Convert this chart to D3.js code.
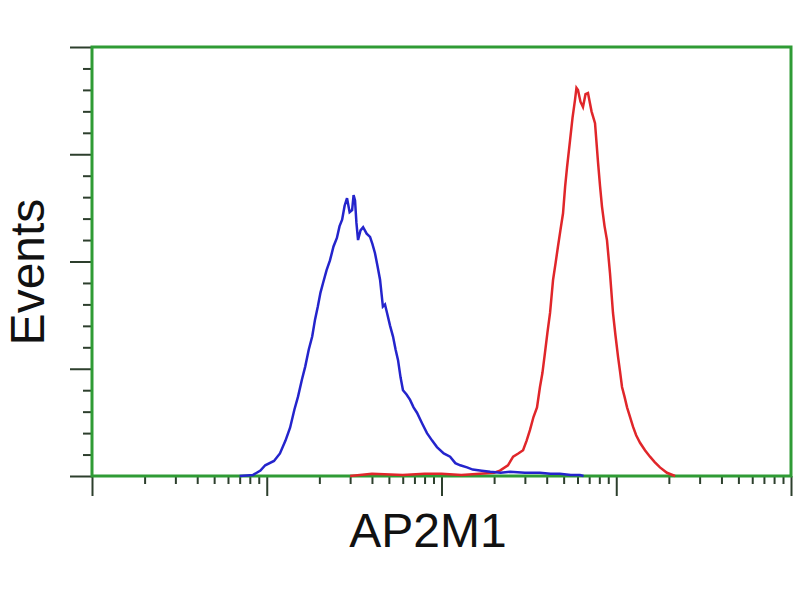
<!DOCTYPE html>
<html>
<head>
<meta charset="utf-8">
<script src="https://cdn.jsdelivr.net/npm/d3@7"></script>
<style>
  body { margin: 0; background: #fff; }
  svg { display: block; }
  .label { font-family: "Liberation Sans", Arial, sans-serif; font-size: 48px; fill: #111; }
</style>
</head>
<body>
<div id="chart"></div>
<script>
// fluorescence intensity (channel value) and event counts
const blueIntensity = [7, 8.35, 9.2, 9.8, 11, 11.9, 12.8, 13.6, 14.4, 15.1, 15.9, 16.6, 17.4, 18.2, 18.9, 19.6, 20.3, 21.0,
    22.0, 23.0, 24.1, 25.2, 26.1, 27.0, 27.9, 28.8, 29.8, 30.8, 31.4, 32.0, 32.6, 33.3, 34.4, 35.6, 37.3, 39.0, 40.3,
    41.6, 43.0, 44.5, 46.2, 47.5, 48.8, 50.8, 52.8, 54.6, 56.4, 58.3, 60.2, 63.1, 66.1, 69.2, 72.4, 77.5, 82.6, 88.4,
    94.2, 103, 112, 120, 128, 140, 151, 170, 190, 218, 247, 300, 366, 420, 476, 550, 620, 650];
const blueCounts = [0, 1, 5, 10, 14, 21, 33, 45, 62, 74, 90, 102, 118, 130, 146, 158, 171, 180,
    192, 201, 214, 222, 233, 239, 252, 259, 246, 248, 262, 257, 236, 220, 229, 232, 226, 223, 216,
    208, 196, 183, 158, 160, 152, 140, 130, 118, 108, 92, 80, 76, 71, 64, 59, 49, 40, 33,
    27, 21, 18, 12, 10, 8, 6, 5, 4, 3, 4, 3, 3, 2, 2, 1, 1, 0];

const redIntensity = [30, 40, 60, 80, 100, 130, 166, 200, 216, 240, 257, 275, 293, 307, 321, 336, 352, 366, 378, 391,
    404, 418, 435, 450, 464, 480, 496, 510, 523, 544, 562, 581, 592, 604, 624, 645, 667, 689, 722, 756, 787,
    808, 829, 857, 885, 921, 958, 990, 1024, 1050, 1079, 1115, 1153, 1200, 1247, 1300, 1368, 1460, 1560,
    1660, 1779, 1950, 2170];
const redCounts = [0, 2, 1, 2, 2, 1, 2, 3, 5, 10, 18, 21, 24, 33, 43, 55, 64, 83, 96, 115,
    134, 152, 183, 199, 214, 230, 245, 270, 288, 313, 334, 351, 362, 360, 349, 344, 356, 357, 340, 329, 292,
    270, 251, 233, 220, 189, 152, 131, 111, 98, 83, 74, 64, 55, 46, 38, 31, 24, 18,
    13, 8, 3, 0];

const xMajor = [1, 10, 100, 1000, 10000];
const yMajor = [0, 100, 200, 300, 400];

const width = 800, height = 600;
const margin = {top: 47, right: 9, bottom: 124, left: 92};

const svg = d3.select("#chart").append("svg")
    .attr("width", width)
    .attr("height", height);

const x = d3.scaleLog()
    .domain([1, 10000])
    .range([margin.left, width - margin.right]);

const y = d3.scaleLinear()
    .domain([0, 400])
    .range([height - margin.bottom, margin.top]);

// minor tick values, 2..9 inside each decade / every 20 events
const xMinor = [];
for (let d = 1; d < 10000; d *= 10) {
    for (let k = 2; k < 10; k++) xMinor.push(d * k);
}
const yMinor = d3.range(0, 400, 20).filter(v => v % 100 !== 0);

const tickColor = "#2d3f2d";
const frameColor = "#2f9b35";

function styleAxis(g) {
    g.select(".domain").remove();
    g.selectAll(".tick line").attr("stroke", tickColor).attr("stroke-width", 2);
}

svg.append("g")
    .attr("transform", "translate(0," + y(0) + ")")
    .call(d3.axisBottom(x).tickValues(xMinor).tickSize(8).tickFormat(""))
    .call(styleAxis);
svg.append("g")
    .attr("transform", "translate(0," + y(0) + ")")
    .call(d3.axisBottom(x).tickValues(xMajor).tickSize(20).tickFormat(""))
    .call(styleAxis);

svg.append("g")
    .attr("transform", "translate(" + x(1) + ",0)")
    .call(d3.axisLeft(y).tickValues(yMinor).tickSize(9).tickFormat(""))
    .call(styleAxis);
svg.append("g")
    .attr("transform", "translate(" + x(1) + ",0)")
    .call(d3.axisLeft(y).tickValues(yMajor).tickSize(22).tickFormat(""))
    .call(styleAxis);

// plot frame
svg.append("rect")
    .attr("x", x(1))
    .attr("y", y(400))
    .attr("width", x(10000) - x(1))
    .attr("height", y(0) - y(400))
    .attr("fill", "none")
    .attr("stroke", frameColor)
    .attr("stroke-width", 3);

const line = d3.line()
    .x(d => x(d[0]))
    .y(d => y(d[1]));

const redData = redIntensity.map((v, i) => [v, redCounts[i]]);
const blueData = blueIntensity.map((v, i) => [v, blueCounts[i]]);

svg.append("path")
    .datum(redData)
    .attr("fill", "none")
    .attr("stroke", "#e0262a")
    .attr("stroke-width", 2.5)
    .attr("d", line);

svg.append("path")
    .datum(blueData)
    .attr("fill", "none")
    .attr("stroke", "#2424cc")
    .attr("stroke-width", 2.5)
    .attr("d", line);

svg.append("text")
    .attr("class", "label")
    .attr("x", 428)
    .attr("y", 547)
    .attr("text-anchor", "middle")
    .text("AP2M1");

svg.append("text")
    .attr("class", "label")
    .attr("transform", "translate(44,272) rotate(-90)")
    .attr("text-anchor", "middle")
    .text("Events");
</script>
</body>
</html>
